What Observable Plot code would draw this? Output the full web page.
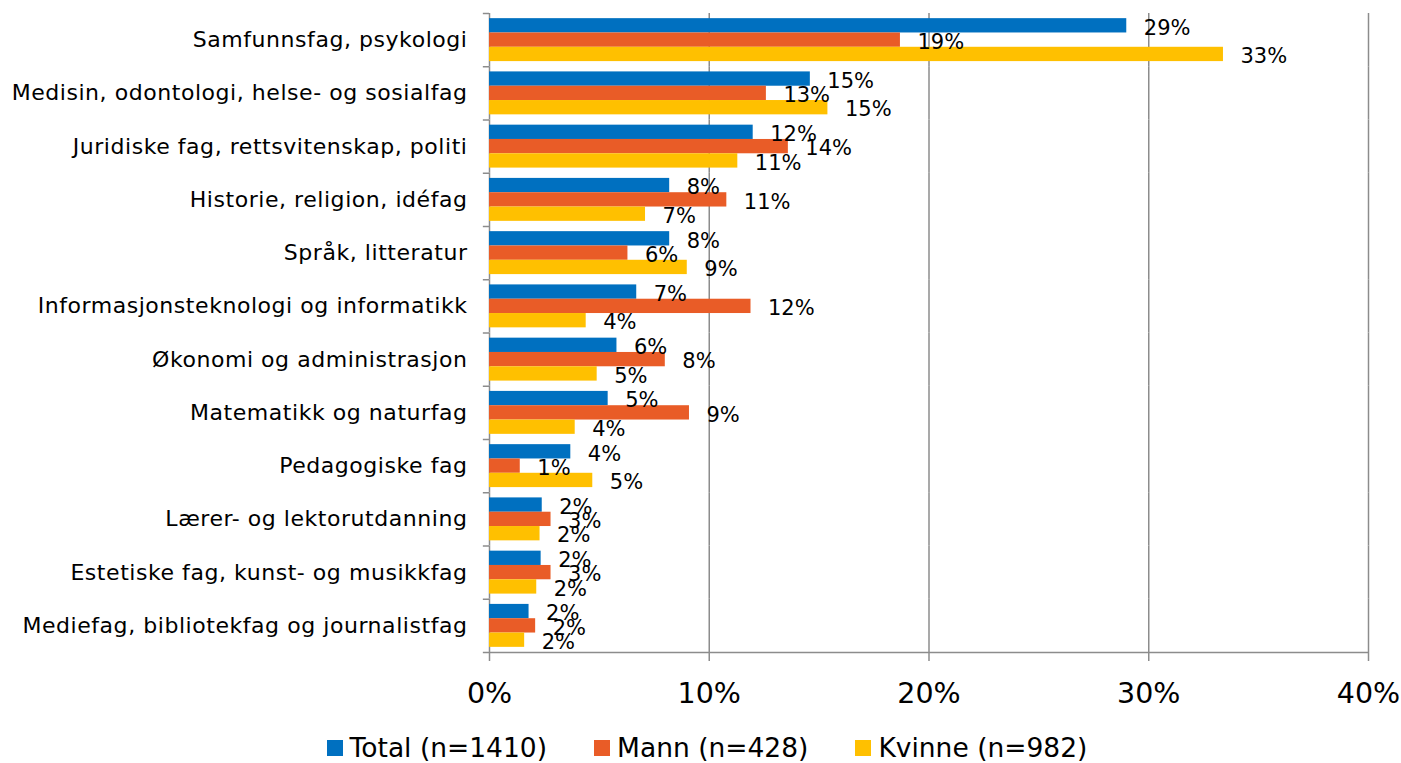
<!DOCTYPE html>
<html>
<head>
<meta charset="utf-8">
<script src="https://cdn.jsdelivr.net/npm/d3@7"></script>
<script src="https://cdn.jsdelivr.net/npm/@observablehq/plot@0.6"></script>
<style>
  html, body { margin: 0; padding: 0; background: #fff; }
  body { width: 1401px; height: 763px; overflow: hidden; font-family: "DejaVu Sans", sans-serif; }
  #chart svg { display: block; }
  #legend { display: flex; justify-content: center; align-items: center; gap: 47px; height: 31px; padding-top: 12px; font-size: 26.5px; color: #000; padding-left: 13px; box-sizing: content-box; }
  #legend .item { display: flex; align-items: center; gap: 7px; }
  #legend .sw { width: 16px; height: 16px; display: inline-block; }
</style>
</head>
<body>
<div id="chart"></div>
<div id="legend"></div>
<script>
const categories = [
  "Samfunnsfag, psykologi",
  "Medisin, odontologi, helse- og sosialfag",
  "Juridiske fag, rettsvitenskap, politi",
  "Historie, religion, idéfag",
  "Språk, litteratur",
  "Informasjonsteknologi og informatikk",
  "Økonomi og administrasjon",
  "Matematikk og naturfag",
  "Pedagogiske fag",
  "Lærer- og lektorutdanning",
  "Estetiske fag, kunst- og musikkfag",
  "Mediefag, bibliotekfag og journalistfag"
];
const seriesNames = ["Total", "Mann", "Kvinne"];
const seriesLabels = ["Total (n=1410)", "Mann (n=428)", "Kvinne (n=982)"];
const seriesColors = ["#0070C0", "#E95C27", "#FFC000"];
const totalValues  = [29.0, 14.6, 12.0, 8.2, 8.2, 6.7, 5.8, 5.4, 3.7, 2.4, 2.35, 1.8];
const mannValues   = [18.7, 12.6, 13.6, 10.8, 6.3, 11.9, 8.0, 9.1, 1.4, 2.8, 2.8, 2.1];
const kvinneValues = [33.4, 15.4, 11.3, 7.1, 9.0, 4.4, 4.9, 3.9, 4.7, 2.3, 2.15, 1.6];
const xTicks = [0, 10, 20, 30, 40];

const valuesBySeries = [totalValues, mannValues, kvinneValues];
const rows = [];
categories.forEach((c, i) => {
  seriesNames.forEach((s, j) => rows.push({category: c, series: s, value: valuesBySeries[j][i]}));
});

const W = 1401, H = 720;
const mTop = 13, mBottom = 68, mLeft = 489, mRight = 33;
const facetH = (H - mTop - mBottom) / categories.length;
const yPadOuter = 0.36;
const step = facetH / (3 + 2 * yPadOuter);
const offTop = step * yPadOuter + step / 2; // distance from Total center to facet top
const grid = "#8c8c8c";
const font = "DejaVu Sans, sans-serif";

const chart = Plot.plot({
  width: W,
  height: H,
  marginTop: mTop,
  marginBottom: mBottom,
  marginLeft: mLeft,
  marginRight: mRight,
  style: {fontFamily: font, color: "#000", background: "#fff", overflow: "visible"},
  x: {domain: [0, 40], axis: null},
  y: {domain: seriesNames, padding: 0, paddingOuter: yPadOuter, round: false, axis: null},
  fy: {domain: categories, padding: 0, round: false, axis: null},
  color: {domain: seriesNames, range: seriesColors},
  marks: [
    Plot.gridX(xTicks, {stroke: grid, strokeOpacity: 1, strokeWidth: 1.5}),
    Plot.barX(rows, {fy: "category", y: "series", x: "value", fill: "series"}),
    Plot.text(rows, {fy: "category", y: "series", x: "value", text: d => Math.round(d.value) + "%",
      textAnchor: "start", dx: 17, dy: 2, fontSize: 21, fill: "#000"}),
    Plot.ruleY(categories, {fy: d => d, y: () => "Total", dy: -offTop, x1: -0.28, x2: 0, stroke: grid, strokeWidth: 1.5}),
    Plot.ruleY(categories.slice(-1), {fy: d => d, y: () => "Kvinne", dy: offTop, x1: -0.28, x2: 40, stroke: grid, strokeWidth: 1.5}),
    Plot.axisX(xTicks, {anchor: "bottom", tickSize: 9, tickPadding: 21, fontSize: 28.5, stroke: grid, strokeWidth: 1.5,
      tickFormat: d => d + "%", label: null}),
    Plot.axisFy({anchor: "left", tickSize: 0, tickPadding: 22, fontSize: 22, label: null})
  ]
});
d3.select(chart).selectAll("[aria-label='fy-axis tick label'] text, g[aria-label='fy-axis tick label']")
  .style("letter-spacing", "0.55px");
document.getElementById("chart").appendChild(chart);

const legend = document.getElementById("legend");
seriesLabels.forEach((lab, j) => {
  const it = document.createElement("div");
  it.className = "item";
  const sw = document.createElement("span");
  sw.className = "sw";
  sw.style.background = seriesColors[j];
  const tx = document.createElement("span");
  tx.textContent = lab;
  it.appendChild(sw); it.appendChild(tx);
  legend.appendChild(it);
});
</script>
</body>
</html>
